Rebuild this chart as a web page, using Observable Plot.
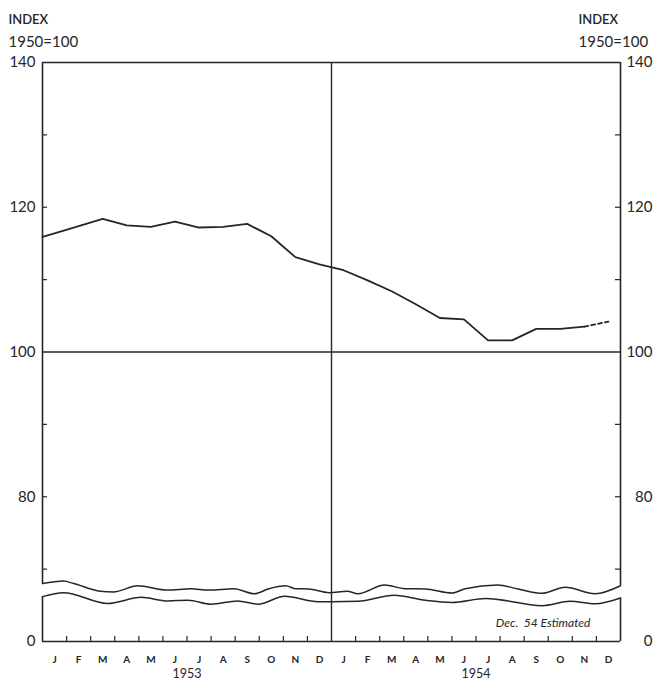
<!DOCTYPE html>
<html><head><meta charset="utf-8">
<script src="https://cdn.jsdelivr.net/npm/d3@7"></script>
<script src="https://cdn.jsdelivr.net/npm/@observablehq/plot@0.6"></script>
<style>body{margin:0;background:#fff}</style>
</head><body><div id="chart"></div>
<script>
// ---- data ----
const months = ["J","F","M","A","M","J","J","A","S","O","N","D","J","F","M","A","M","J","J","A","S","O","N","D"];
const years = ["1953","1954"];
// index, 1950=100, monthly Jan 1953 - Dec 1954 (Dec 54 estimated)
const indexValues = [116.4,117.4,118.4,117.5,117.3,118.0,117.2,117.3,117.7,116.0,113.1,112.1,
                     111.3,109.9,108.4,106.6,104.7,104.5,101.6,101.6,103.2,103.2,103.5,104.2];
const startValue = 115.9;          // value where the line enters at the left edge
const estimatedMonths = 1;         // last month estimated (dashed)
const yTickValues = [60,80,100,120,140];
const yTickLabels = ["0","80","100","120","140"];
const yMinorTicks = [70,80,90,110,120,130];
// axis-break wavy lines (position in months, value)
const breakUpperX = [0,0.875,1.3,2.4,2.95,3.95,5.2,6.15,6.9,7.95,8.8,9.4,10.1,10.5,11.05,11.9,12.65,13.1,14.2,15.05,15.9,17.0,17.55,18.9,19.75,20.75,21.7,22.95,24];
const breakUpperY = [68.0,68.35,68.0,66.95,66.85,67.7,67.1,67.3,67.1,67.3,66.6,67.3,67.7,67.3,67.25,66.75,66.95,66.6,67.8,67.3,67.25,66.7,67.3,67.8,67.25,66.65,67.5,66.6,67.7];
const breakLowerX = [0,0.875,2.7,4.1,5.2,6.05,7.0,8.1,8.95,10.05,11.45,12.0,13.1,14.6,15.9,17.0,18.4,20.75,21.9,22.95,24];
const breakLowerY = [66.2,66.75,65.25,66.1,65.6,65.7,65.15,65.6,65.15,66.25,65.5,65.5,65.55,66.4,65.7,65.4,65.95,64.95,65.55,65.2,66.0];

// ---- derived tables ----
const pts = indexValues.map((v,i)=>({x:i+0.5, y:v}));
const n = indexValues.length;
const solid = [{x:0, y:startValue}, ...pts.slice(0, n - estimatedMonths)];
const dashed = pts.slice(n - estimatedMonths - 1);
const upper = breakUpperX.map((x,i)=>({x, y:breakUpperY[i]}));
const lower = breakLowerX.map((x,i)=>({x, y:breakLowerY[i]}));
const boundaries = d3.range(1, n).filter(d => d !== 12);
const yMin = yTickValues[0], yMax = yTickValues[yTickValues.length-1];
const sides = [
  {x:0, y1:yMin, y2:breakLowerY[0]},
  {x:0, y1:breakUpperY[0], y2:yMax},
  {x:n, y1:yMin, y2:breakLowerY[breakLowerY.length-1]},
  {x:n, y1:breakUpperY[breakUpperY.length-1], y2:yMax}
];

const W = 653, H = 681, ML = 42, MR = 33, MT = 62, MB = 40;
const frameW = W - ML - MR, frameH = H - MT - MB;
const ink = "#262626";

const chart = Plot.plot({
  width: W, height: H,
  marginLeft: ML, marginRight: MR, marginTop: MT, marginBottom: MB,
  x: {domain: [0, n], axis: null},
  y: {domain: [yMin, yMax], axis: null},
  style: {fontFamily: "Lato, 'Open Sans', sans-serif", color: ink, background: "#fff", overflow: "visible"},
  marks: [
    // frame
    Plot.ruleY([yMin, 100, yMax], {stroke: ink, strokeWidth: 1.6}),
    Plot.ruleX([n/2], {stroke: ink, strokeWidth: 1.4}),
    Plot.ruleX(sides, {x: "x", y1: "y1", y2: "y2", stroke: ink, strokeWidth: 1.6}),
    // inner ticks
    Plot.tickY(yMinorTicks, {y: d => d, insetRight: frameW - 5, stroke: ink, strokeWidth: 1.2}),
    Plot.tickY(yMinorTicks, {y: d => d, insetLeft: frameW - 5, stroke: ink, strokeWidth: 1.2}),
    Plot.tickX(boundaries, {x: d => d, insetTop: frameH - 5, stroke: ink, strokeWidth: 1.2}),
    // axis break
    Plot.line(upper, {x: "x", y: "y", curve: "monotone-x", stroke: ink, strokeWidth: 1.5}),
    Plot.line(lower, {x: "x", y: "y", curve: "monotone-x", stroke: ink, strokeWidth: 1.5}),
    // data
    Plot.line(solid, {x: "x", y: "y", stroke: ink, strokeWidth: 1.8}),
    Plot.line(dashed, {x: "x", y: "y", stroke: ink, strokeWidth: 1.8, strokeDasharray: "4,3"}),
    // y labels
    Plot.text(yTickValues, {y: d => d, text: d => yTickLabels[yTickValues.indexOf(d)], frameAnchor: "left", lineAnchor: "middle", dx: -7, textAnchor: "end", fontSize: 15}),
    Plot.text(yTickValues, {y: d => d, text: d => yTickLabels[yTickValues.indexOf(d)], frameAnchor: "right", lineAnchor: "middle", dx: 32, textAnchor: "end", fontSize: 15}),
    // headers
    Plot.text(["INDEX"], {frameAnchor: "top-left", lineAnchor: "middle", dx: -34, dy: -43, textAnchor: "start", fontSize: 13, fontWeight: 600}),
    Plot.text(["1950=100"], {frameAnchor: "top-left", lineAnchor: "middle", dx: -34, dy: -20, textAnchor: "start", fontSize: 15}),
    Plot.text(["INDEX"], {frameAnchor: "top-right", lineAnchor: "middle", dx: -42, dy: -43, textAnchor: "start", fontSize: 13, fontWeight: 600}),
    Plot.text(["1950=100"], {frameAnchor: "top-right", lineAnchor: "middle", dx: -42, dy: -20, textAnchor: "start", fontSize: 15}),
    // x labels
    Plot.text(months, {x: (d,i) => i + 0.5, frameAnchor: "bottom", lineAnchor: "middle", dy: 18.5, fontSize: 10, fontWeight: 700}),
    Plot.text(years, {x: (d,i) => i*12 + 6, frameAnchor: "bottom", lineAnchor: "middle", dy: 32.5, fontSize: 12.5}),
    // note
    Plot.text(["Dec.  54 Estimated"], {x: 22.75, y: 62.6, textAnchor: "end", fontStyle: "italic", fontSize: 12})
  ]
});
document.getElementById("chart").appendChild(chart);
</script>
</body></html>
